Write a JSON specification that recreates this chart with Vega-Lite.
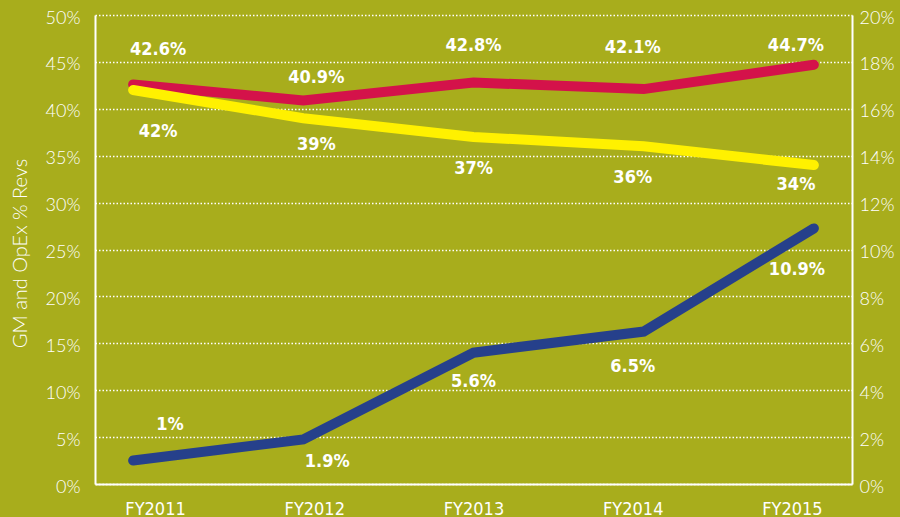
{
  "$schema": "https://vega.github.io/schema/vega-lite/v6.json",
  "width": 757,
  "height": 469,
  "autosize": "none",
  "padding": {"left": 95, "top": 15, "right": 48, "bottom": 33},
  "background": "#a8ad1c",
  "config": {
    "view": {"stroke": null},
    "text": {"font": "DejaVu Sans Condensed, Liberation Sans Narrow, Roboto, sans-serif", "fontSize": 18, "fontWeight": "bold", "color": "#ffffff", "baseline": "middle", "align": "center"}
  },
  "data": {
    "values": [
      {"year": "FY2011", "s": "GM", "v": 0.426},
      {"year": "FY2012", "s": "GM", "v": 0.409},
      {"year": "FY2013", "s": "GM", "v": 0.428},
      {"year": "FY2014", "s": "GM", "v": 0.421},
      {"year": "FY2015", "s": "GM", "v": 0.447},
      {"year": "FY2011", "s": "OpEx", "v": 0.42},
      {"year": "FY2012", "s": "OpEx", "v": 0.39},
      {"year": "FY2013", "s": "OpEx", "v": 0.37},
      {"year": "FY2014", "s": "OpEx", "v": 0.36},
      {"year": "FY2015", "s": "OpEx", "v": 0.34},
      {"year": "FY2011", "s": "OM", "v": 0.01},
      {"year": "FY2012", "s": "OM", "v": 0.019},
      {"year": "FY2013", "s": "OM", "v": 0.056},
      {"year": "FY2014", "s": "OM", "v": 0.065},
      {"year": "FY2015", "s": "OM", "v": 0.109}
    ]
  },
  "layer": [
    {
      "transform": [{"filter": "datum.s != 'OM'"}],
      "mark": {"type": "line", "strokeWidth": 10, "strokeCap": "round"},
      "encoding": {
        "x": {"field": "year", "type": "nominal", "scale": {"type": "point", "domain": ["FY2011", "FY2012", "FY2013", "FY2014", "FY2015"], "padding": 0.224}, "axis": null},
        "y": {"field": "v", "type": "quantitative", "scale": {"domain": [0, 0.5], "nice": false},
          "axis": {"orient": "left", "values": [0, 0.05, 0.1, 0.15, 0.2, 0.25, 0.3, 0.35, 0.4, 0.45, 0.5], "format": ".0%",
            "grid": true, "gridColor": "#ffffff", "gridDash": [1.5, 2], "gridWidth": 1.5, "gridOpacity": 1,
            "domainColor": "#ffffff", "domainWidth": 2, "ticks": false,
            "labelColor": "#ffffff", "labelFont": "Lato", "labelFontWeight": 300, "labelFontSize": 18, "labelPadding": 15, "labelOffset": 3,
            "title": "GM and OpEx % Revs", "titleColor": "#ffffff", "titleFont": "Lato", "titleFontWeight": 300, "titleFontSize": 20,
            "titleX": -75, "titleY": 238, "titleAngle": -90, "titleBaseline": "middle", "titleAlign": "center"}},
        "color": {"field": "s", "type": "nominal", "scale": {"domain": ["GM", "OpEx", "OM"], "range": ["#d4124a", "#fff100", "#26408b"]}, "legend": null}
      }
    },
    {
      "transform": [{"filter": "datum.s == 'OM'"}],
      "mark": {"type": "line", "strokeWidth": 10, "strokeCap": "round", "color": "#26408b"},
      "encoding": {
        "x": {"field": "year", "type": "nominal", "scale": {"type": "point", "domain": ["FY2011", "FY2012", "FY2013", "FY2014", "FY2015"], "padding": 0.224}, "axis": null},
        "y": {"field": "v", "type": "quantitative", "scale": {"domain": [0, 0.2], "nice": false},
          "axis": {"orient": "right", "values": [0, 0.02, 0.04, 0.06, 0.08, 0.1, 0.12, 0.14, 0.16, 0.18, 0.2], "format": ".0%",
            "grid": false, "domainColor": "#ffffff", "domainWidth": 2, "ticks": false,
            "labelColor": "#ffffff", "labelFont": "Lato", "labelFontWeight": 300, "labelFontSize": 18, "labelPadding": 7, "labelOffset": 3,
            "title": null}}
      }
    },
    {
      "transform": [{"filter": "datum.s != 'OM'"}],
      "encoding": {
        "x": {"field": "year", "type": "nominal", "scale": {"type": "point", "domain": ["FY2011", "FY2012", "FY2013", "FY2014", "FY2015"], "padding": 0.377},
          "axis": {"orient": "bottom", "title": null, "labelAngle": 0, "labelColor": "#ffffff", "labelFont": "Liberation Sans Narrow, DejaVu Sans Condensed, Lato", "labelFontSize": 18, "labelFontWeight": 300,
            "labelPadding": 16, "ticks": false, "domainColor": "#ffffff", "domainWidth": 2, "grid": false}},
        "y": {"field": "v", "type": "quantitative", "scale": {"domain": [0, 0.5], "nice": false}, "axis": null},
        "text": {"field": "v", "type": "quantitative", "format": ".1~%"}
      },
      "layer": [
        {"transform": [{"filter": "datum.s == 'GM' && datum.year == 'FY2011'"}], "mark": {"type": "text", "dx": 3, "dy": -34}},
        {"transform": [{"filter": "datum.s == 'GM' && datum.year == 'FY2012'"}], "mark": {"type": "text", "dx": 2, "dy": -22}},
        {"transform": [{"filter": "datum.s == 'GM' && datum.year == 'FY2013'"}], "mark": {"type": "text", "dx": 0, "dy": -37}},
        {"transform": [{"filter": "datum.s == 'GM' && datum.year == 'FY2014'"}], "mark": {"type": "text", "dx": 0, "dy": -41}},
        {"transform": [{"filter": "datum.s == 'GM' && datum.year == 'FY2015'"}], "mark": {"type": "text", "dx": 4, "dy": -19}},
        {"transform": [{"filter": "datum.s == 'OpEx' && datum.year == 'FY2011'"}], "mark": {"type": "text", "dx": 3, "dy": 42}},
        {"transform": [{"filter": "datum.s == 'OpEx' && datum.year == 'FY2012'"}], "mark": {"type": "text", "dx": 2, "dy": 27}},
        {"transform": [{"filter": "datum.s == 'OpEx' && datum.year == 'FY2013'"}], "mark": {"type": "text", "dx": 0, "dy": 32}},
        {"transform": [{"filter": "datum.s == 'OpEx' && datum.year == 'FY2014'"}], "mark": {"type": "text", "dx": 0, "dy": 32}},
        {"transform": [{"filter": "datum.s == 'OpEx' && datum.year == 'FY2015'"}], "mark": {"type": "text", "dx": 4, "dy": 20}}
      ]
    },
    {
      "transform": [{"filter": "datum.s == 'OM'"}],
      "encoding": {
        "x": {"field": "year", "type": "nominal", "scale": {"type": "point", "domain": ["FY2011", "FY2012", "FY2013", "FY2014", "FY2015"], "padding": 0.377}, "axis": null},
        "y": {"field": "v", "type": "quantitative", "scale": {"domain": [0, 0.2], "nice": false}, "axis": null},
        "text": {"field": "v", "type": "quantitative", "format": ".1~%"}
      },
      "layer": [
        {"transform": [{"filter": "datum.year == 'FY2011'"}], "mark": {"type": "text", "dx": 15, "dy": -36}},
        {"transform": [{"filter": "datum.year == 'FY2012'"}], "mark": {"type": "text", "dx": 13, "dy": 23}},
        {"transform": [{"filter": "datum.year == 'FY2013'"}], "mark": {"type": "text", "dx": 0, "dy": 29}},
        {"transform": [{"filter": "datum.year == 'FY2014'"}], "mark": {"type": "text", "dx": 0, "dy": 35}},
        {"transform": [{"filter": "datum.year == 'FY2015'"}], "mark": {"type": "text", "dx": 5, "dy": 42}}
      ]
    }
  ],
  "resolve": {"scale": {"x": "independent", "y": "independent", "color": "shared"}}
}
